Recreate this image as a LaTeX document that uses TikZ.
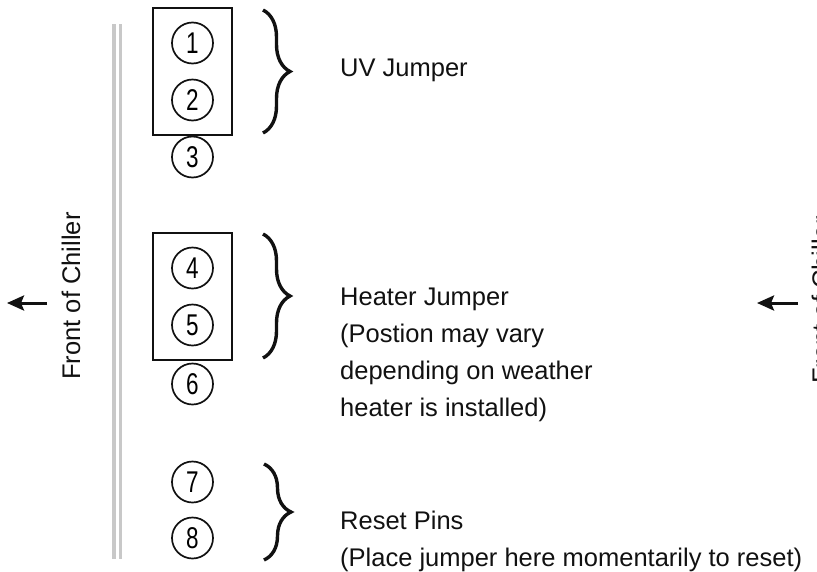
\documentclass[tikz,border=0pt]{standalone}
\usepackage{fontspec}
\setmainfont{Liberation Sans}
\newfontfamily\pinfont[FakeStretch=0.75]{Liberation Sans}
\usepackage{tikz}
\usetikzlibrary{arrows.meta,fit,decorations.pathreplacing}
\definecolor{blackmain}{HTML}{111111}
\definecolor{railgray}{HTML}{C8C8C8}
\tikzset{
  jpin/.style={draw=blackmain,circle,line width=1.7pt,minimum size=41pt,inner sep=0pt,
    font=\pinfont\fontsize{30}{32}\selectfont},
  jbox/.style={draw=blackmain,line width=2pt,inner xsep=18pt,inner ysep=13.5pt},
  jbrace/.style={blackmain,line width=3.4pt,decorate,decoration={brace,amplitude=27pt}},
  jlabel/.style={anchor=base west,align=left,inner sep=0pt,text=blackmain,
    font=\fontsize{25.5}{37}\selectfont},
  jside/.style={anchor=base,rotate=90,inner sep=0pt,text=blackmain,
    font=\fontsize{25.5}{30}\selectfont},
  jarrow/.style={-{Stealth[length=17pt,width=15pt,inset=3pt]},blackmain,line width=3pt},
}

\begin{document}
\begin{tikzpicture}[x=1pt,y=-1pt]
  \useasboundingbox (0,0) rectangle (817,571);
  % header rail, two thin gray bars
  \draw[railgray,line width=3.3pt] (114,24) -- (114,559);
  \draw[railgray,line width=3.3pt] (120.7,24) -- (120.7,559);
  % pins
  \node[jpin] (p1) at (192.5,43) {1};
  \node[jpin] (p2) at (192.5,100) {2};
  \node[jpin] (p3) at (192.5,157) {3};
  \node[jpin] (p4) at (192.5,268) {4};
  \node[jpin] (p5) at (192.5,325) {5};
  \node[jpin] (p6) at (192.5,384) {6};
  \node[jpin] (p7) at (192.5,482) {7};
  \node[jpin] (p8) at (192.5,538) {8};
  \node[jbox,fit=(p1)(p2)] (uvbox) {};
  \node[jbox,fit=(p4)(p5)] (htbox) {};
  % braces and their labels (base of a multi-line node = its last line)
  \draw[jbrace] (263,10) -- (263,133);
  \draw[jbrace] (263,234) -- (263,358);
  \draw[jbrace] (264,464) -- (264,560);
  \node[jlabel] (uv) at (340,76) {UV Jumper};
  \node[jlabel] (heater) at (340,416) {Heater Jumper\\(Postion may vary\\depending on weather\\heater is installed)};
  \node[jlabel] (reset) at (340,566) {Reset Pins\\(Place jumper here momentarily to reset)};
  % orientation marks
  \node[jside] (front) at (80,296) {Front of Chiller};
  \coordinate (fa) at (47,303);
  \draw[jarrow] (fa) -- ++(-40,0);
  \node[jside] (frontr) at (830,300) {Front of Chiller};
  \coordinate (fb) at (798,303);
  \draw[jarrow] (fb) -- ++(-41,0);
\end{tikzpicture}
\end{document}
